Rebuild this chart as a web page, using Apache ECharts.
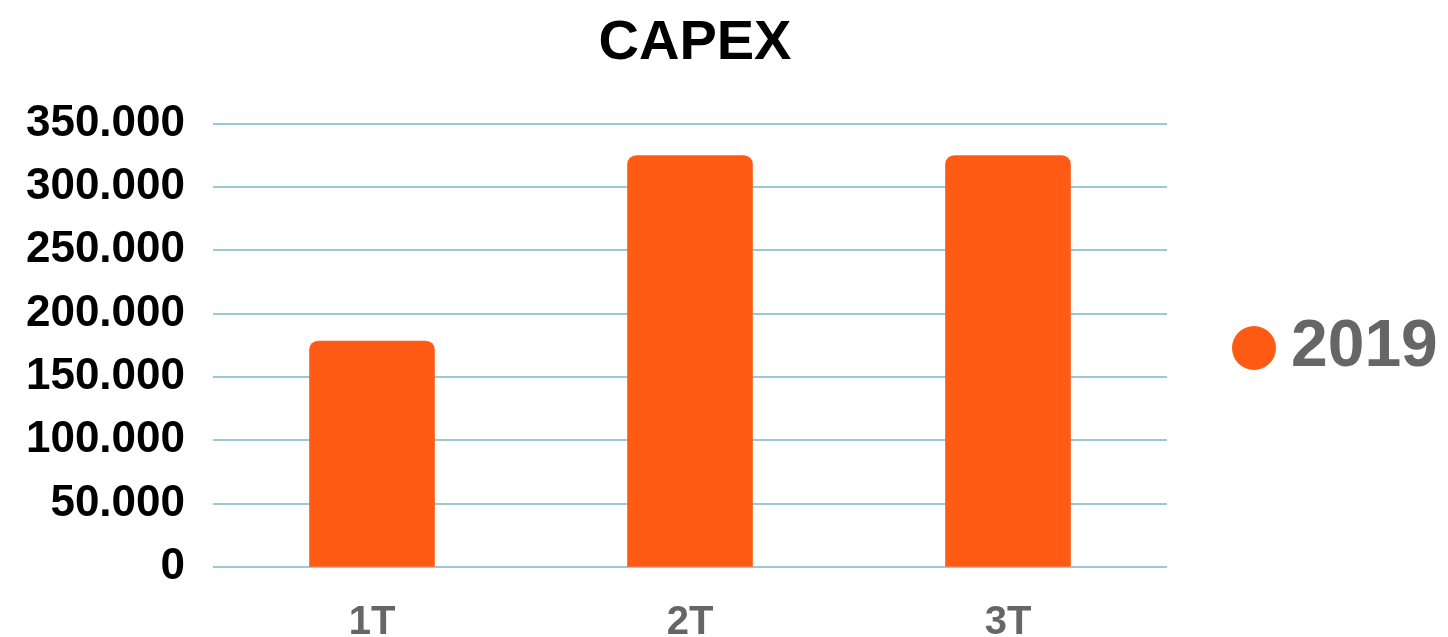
<!DOCTYPE html>
<html lang="es">
<head>
    <meta charset="UTF-8">
    <title>CAPEX</title>
    <script src="https://cdn.jsdelivr.net/npm/echarts@6/dist/echarts.min.js"></script>
    <style>
        html, body { margin: 0; padding: 0; background: #fff; }
    </style>
</head>
<body>
    <div id="main" style="width: 1448px;height:637px;"></div>
    <script type="text/javascript">
        // datos del gráfico
        var categories = ['1T', '2T', '3T'];
        var seriesName = '2019';
        var values2019 = [178500, 325000, 325000];
        var yTicks = [0, 50000, 100000, 150000, 200000, 250000, 300000, 350000];

        var font = '"Liberation Sans", Arial, sans-serif';

        // formato con punto de miles: 350000 -> 350.000
        function miles(v) {
            return String(v).replace(/\B(?=(\d{3})+(?!\d))/g, '.');
        }

        var myChart = echarts.init(document.getElementById('main'));

        var option = {
            backgroundColor: '#ffffff',
            animation: false,
            title: {
                text: 'CAPEX',
                left: 690,
                textAlign: 'center',
                top: 11,
                textStyle: {
                    color: '#000',
                    fontSize: 56,
                    fontWeight: 'bold',
                    fontFamily: font
                }
            },
            legend: {
                data: [seriesName],
                left: 1227,
                top: 310,
                icon: 'circle',
                itemWidth: 44,
                itemHeight: 44,
                textStyle: {
                    color: '#666',
                    fontSize: 66,
                    fontWeight: 'bold',
                    fontFamily: font,
                    padding: [0, 0, 0, 10]
                }
            },
            grid: {
                left: 213,
                width: 954,
                top: 123.5,
                height: 443.2,
                containLabel: false,
                outerBoundsMode: 'none'
            },
            xAxis: {
                type: 'category',
                data: categories,
                axisLine: { show: false },
                axisTick: { show: false },
                axisLabel: {
                    margin: 36,
                    color: '#666',
                    fontSize: 40,
                    fontWeight: 'bold',
                    fontFamily: font
                }
            },
            yAxis: {
                type: 'value',
                min: yTicks[0],
                max: yTicks[yTicks.length - 1],
                interval: yTicks[1] - yTicks[0],
                axisLine: { show: false },
                axisTick: { show: false },
                splitLine: {
                    lineStyle: { color: '#9cc8d6', width: 2 }
                },
                axisLabel: {
                    margin: 28,
                    color: '#000',
                    fontSize: 44,
                    fontWeight: 'bold',
                    fontFamily: font,
                    formatter: miles
                }
            },
            series: [{
                name: seriesName,
                type: 'bar',
                data: values2019,
                barWidth: '39.5%',
                itemStyle: {
                    color: '#ff5b14',
                    borderRadius: [9, 9, 0, 0]
                }
            }]
        };

        myChart.setOption(option);
    </script>
</body>
</html>
